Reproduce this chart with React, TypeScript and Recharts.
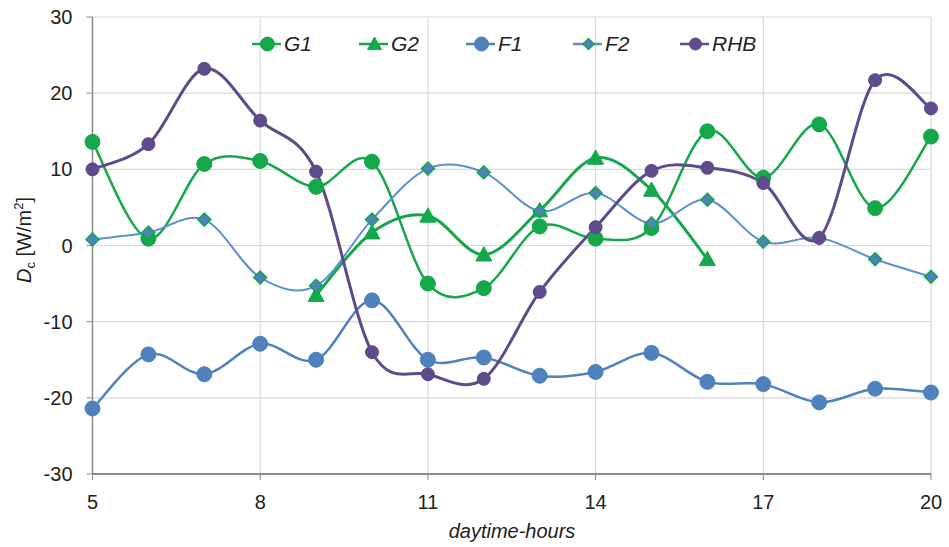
import React from 'react';
import { LineChart, Line, XAxis, YAxis, CartesianGrid, Legend } from 'recharts';

const hours = [5, 6, 7, 8, 9, 10, 11, 12, 13, 14, 15, 16, 17, 18, 19, 20];
const g1 = [13.6, 0.9, 10.7, 11.1, 7.7, 11.0, -5.0, -5.6, 2.5, 0.9, 2.3, 15.0, 8.9, 15.9, 4.9, 14.3];
const g2 = [null, null, null, null, -6.5, 1.7, 3.9, -1.2, 4.6, 11.5, 7.3, -1.8, null, null, null, null];
const f1 = [-21.4, -14.3, -16.9, -12.9, -15.0, -7.2, -15.0, -14.7, -17.1, -16.6, -14.1, -17.9, -18.2, -20.6, -18.8, -19.3];
const f2 = [0.8, 1.7, 3.4, -4.2, -5.3, 3.4, 10.1, 9.6, 4.5, 6.9, 2.9, 6.0, 0.5, 1.0, -1.8, -4.1];
const rhb = [10.0, 13.3, 23.2, 16.4, 9.7, -14.0, -16.9, -17.5, -6.1, 2.4, 9.8, 10.2, 8.2, 1.0, 21.7, 18.0];

const xTicks = [5, 8, 11, 14, 17, 20];
const yTicks = [-30, -20, -10, 0, 10, 20, 30];

const data = hours.map((h, i) => ({ h, G1: g1[i], G2: g2[i], F1: f1[i], F2: f2[i], RHB: rhb[i] }));

const GREEN = '#14a84b';
const BLUE = '#4f81bd';
const PURPLE = '#5f4b8b';
const FONT = '"Liberation Sans", Arial, sans-serif';

// excel-like smoothed line (catmull-rom style bezier)
const smooth = (context: any) => {
  let pts: number[][] = [];
  return {
    areaStart() {},
    areaEnd() {},
    lineStart() {
      pts = [];
    },
    point(x: number, y: number) {
      pts.push([+x, +y]);
    },
    lineEnd() {
      if (!pts.length) return;
      context.moveTo(pts[0][0], pts[0][1]);
      for (let i = 0; i < pts.length - 1; i++) {
        const p0 = pts[i - 1] || pts[i];
        const p1 = pts[i];
        const p2 = pts[i + 1];
        const p3 = pts[i + 2] || p2;
        context.bezierCurveTo(
          p1[0] + (p2[0] - p0[0]) / 6,
          p1[1] + (p2[1] - p0[1]) / 6,
          p2[0] - (p3[0] - p1[0]) / 6,
          p2[1] - (p3[1] - p1[1]) / 6,
          p2[0],
          p2[1]
        );
      }
    },
  };
};

const markerFor = (kind: string, fill: string, stroke: string, r: number) => (props: any) => {
  const { cx, cy, index } = props;
  if (cx == null || cy == null || isNaN(cy)) return <g key={`e${index}`} />;
  if (kind === 'triangle') {
    return (
      <path
        key={`t${index}`}
        d={`M${cx},${cy - r} L${cx + r},${cy + r * 0.8} L${cx - r},${cy + r * 0.8} Z`}
        fill={fill}
        stroke={stroke}
        strokeWidth={1}
      />
    );
  }
  if (kind === 'diamond') {
    return (
      <path
        key={`d${index}`}
        d={`M${cx},${cy - r} L${cx + r},${cy} L${cx},${cy + r} L${cx - r},${cy} Z`}
        fill={fill}
        stroke={stroke}
        strokeWidth={1.5}
      />
    );
  }
  return <circle key={`c${index}`} cx={cx} cy={cy} r={r} fill={fill} stroke={stroke} strokeWidth={1} />;
};

const legendItems = [
  { name: 'G1', color: GREEN, kind: 'circle', fill: GREEN, stroke: GREEN, r: 7 },
  { name: 'G2', color: GREEN, kind: 'triangle', fill: GREEN, stroke: GREEN, r: 7 },
  { name: 'F1', color: BLUE, kind: 'circle', fill: BLUE, stroke: BLUE, r: 7 },
  { name: 'F2', color: '#5b8fd0', kind: 'diamond', fill: BLUE, stroke: GREEN, r: 5.5 },
  { name: 'RHB', color: PURPLE, kind: 'circle', fill: PURPLE, stroke: PURPLE, r: 6 },
];

const renderLegend = () => (
  <div style={{ display: 'flex', paddingLeft: 252, fontFamily: FONT }}>
    {legendItems.map((it) => (
      <div key={it.name} style={{ width: 107, display: 'flex', alignItems: 'center' }}>
        <svg width={29} height={22}>
          <line x1={0} y1={11} x2={29} y2={11} stroke={it.color} strokeWidth={2.5} />
          {markerFor(it.kind, it.fill, it.stroke, it.r)({ cx: 15.5, cy: 11, index: 0 })}
        </svg>
        <span style={{ fontSize: 21, fontStyle: 'italic', color: '#222', marginLeft: 3 }}>{it.name}</span>
      </div>
    ))}
  </div>
);

const YLabel = () => (
  <text
    x={31}
    y={240}
    transform="rotate(-90 31 240)"
    textAnchor="middle"
    fontSize={20}
    fontFamily={FONT}
    fill="#222"
  >
    <tspan fontStyle="italic">D</tspan>
    <tspan fontSize={13} dy={4}>c</tspan>
    <tspan dy={-4}> [W/m</tspan>
    <tspan fontSize={13} dy={-8}>2</tspan>
    <tspan dy={8}>]</tspan>
  </text>
);

const XLabel = () => (
  <text x={512} y={538} textAnchor="middle" fontSize={20} fontStyle="italic" fontFamily={FONT} fill="#222">
    daytime-hours
  </text>
);

export default function App() {
  return (
    <div style={{ position: 'absolute', left: 0, top: 0, width: 949, height: 547, background: '#fff' }}>
      <LineChart width={949} height={547} data={data} margin={{ top: 17, right: 18, bottom: 33, left: 32.5 }}>
        <CartesianGrid stroke="#d9d9d9" strokeWidth={1.2} />
        <XAxis
          dataKey="h"
          type="number"
          domain={[5, 20]}
          ticks={xTicks}
          height={40}
          axisLine={{ stroke: '#8c8c8c', strokeWidth: 2 }}
          tickLine={{ stroke: '#8c8c8c' }}
          tickSize={6}
          tickMargin={15}
          tick={{ fontSize: 20, fill: '#222', fontFamily: FONT }}
          label={{ content: XLabel }}
        />
        <YAxis
          type="number"
          domain={[-30, 30]}
          ticks={yTicks}
          width={60}
          axisLine={{ stroke: '#8c8c8c', strokeWidth: 1.5 }}
          tickLine={{ stroke: '#8c8c8c' }}
          tickSize={6}
          tickMargin={14}
          tick={{ fontSize: 20, fill: '#222', fontFamily: FONT }}
          label={{ content: YLabel }}
        />
        <Legend
          content={renderLegend}
          verticalAlign="middle"
          align="center"
          wrapperStyle={{ top: 32, left: 0, width: 949 }}
        />
        <Line dataKey="G1" type={smooth as any} stroke={GREEN} strokeWidth={2.5} dot={markerFor('circle', GREEN, GREEN, 7.5)} isAnimationActive={false} />
        <Line dataKey="G2" type={smooth as any} stroke={GREEN} strokeWidth={3} dot={markerFor('triangle', GREEN, GREEN, 8)} isAnimationActive={false} />
        <Line dataKey="F1" type={smooth as any} stroke={BLUE} strokeWidth={2.5} dot={markerFor('circle', BLUE, BLUE, 7.5)} isAnimationActive={false} />
        <Line dataKey="F2" type={smooth as any} stroke="#5b8fd0" strokeWidth={2} dot={markerFor('diamond', BLUE, GREEN, 6.5)} isAnimationActive={false} />
        <Line dataKey="RHB" type={smooth as any} stroke={PURPLE} strokeWidth={3} dot={markerFor('circle', PURPLE, PURPLE, 6.5)} isAnimationActive={false} />
      </LineChart>
    </div>
  );
}
